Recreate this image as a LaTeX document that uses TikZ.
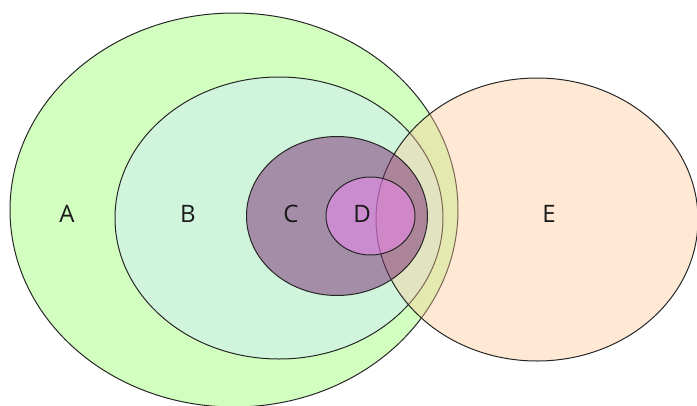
\documentclass[tikz,border=0pt]{standalone}
\usepackage{fontspec}
\setmainfont{Open Sans}
\definecolor{setA}{RGB}{210,255,192}
\definecolor{setB}{RGB}{208,245,220}
\definecolor{setC}{RGB}{122,41,116}
\definecolor{setD}{RGB}{243,137,248}
\definecolor{setE}{RGB}{255,200,150}
\tikzset{
  setline/.style={draw=black!85, line width=1pt},
  setlabel/.style={font=\fontsize{24}{26}\selectfont, text=black!90, inner sep=0pt}
}
\begin{document}
\begin{tikzpicture}[x=1pt, y=-1pt]
  \useasboundingbox (0,0) rectangle (697,405);
  % outer nested sets, opaque
  \filldraw[setline, fill=setA] (234,210) ellipse [x radius=224, y radius=197];
  \filldraw[setline, fill=setB] (279,218) ellipse [x radius=164, y radius=141];
  % overlapping set, half transparent
  \fill[setE, fill opacity=0.4] (537,219.5) ellipse [x radius=161, y radius=141.5];
  \draw[setline] (537,219.5) ellipse [x radius=161, y radius=141.5];
  % inner nested sets, translucent over everything below
  \filldraw[setline, fill=setC, fill opacity=0.5] (337,216) ellipse [x radius=90.5, y radius=79.5];
  \filldraw[setline, fill=setD, fill opacity=0.5] (370.5,216) ellipse [x radius=44.5, y radius=39];
  % labels
  \node[setlabel] (lA) at (67,214) {A};
  \node[setlabel] (lB) at (188,214) {B};
  \node[setlabel] (lC) at (291,214) {C};
  \node[setlabel] (lD) at (362,214) {D};
  \node[setlabel] (lE) at (549,214) {E};
\end{tikzpicture}
\end{document}
